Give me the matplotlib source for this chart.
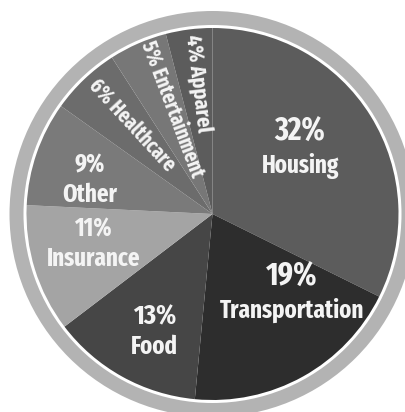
import numpy as np
import matplotlib
matplotlib.use('Agg')
import matplotlib.pyplot as plt
from matplotlib.patches import Circle
from matplotlib import font_manager

# household spending shares (percent), clockwise from 12 o'clock
categories = ['Housing', 'Transportation', 'Food', 'Insurance', 'Other',
              'Healthcare', 'Entertainment', 'Apparel']
shares = [32, 19, 13, 11, 9, 6, 5, 4]
slice_colors = ['#5c5c5c', '#2d2d2d', '#464646', '#a4a4a4', '#7a7a7a',
                '#6c6c6c', '#777777', '#5c5c5c']

# the original uses a very condensed bold face -> Fira Sans Extra Condensed Bold
fp = None
for f in font_manager.fontManager.ttflist:
    if f.fname.split('/')[-1] == 'FiraSansExtraCondensed-Bold.ttf':
        fp = font_manager.FontProperties(fname=f.fname)
        break
if fp is None:
    cands = []
    for f in font_manager.fontManager.ttflist:
        nm = f.fname.split('/')[-1].lower().replace('-', '').replace('_', '')
        if 'italic' in nm or f.style != 'normal':
            continue
        if 'condensed' in nm or 'narrow' in nm:
            w = f.weight if isinstance(f.weight, int) else 400
            cands.append((0 if 'extracondensed' in nm else 1, abs(w - 700), f.fname))
    cands.sort()
    if cands:
        fp = font_manager.FontProperties(fname=cands[0][2])
    else:
        fp = font_manager.FontProperties(family='DejaVu Sans', weight='bold')

fig = plt.figure(figsize=(4.06, 4.12), dpi=100)
ax = fig.add_axes([0, 0, 1, 1])

cx, cy = 212.5, 198
R = 186

# outer ring + thin white line
ax.add_patch(Circle((cx, cy), 203, facecolor='#b3b3b3', edgecolor='none', zorder=1))
ax.add_patch(Circle((cx, cy), 189, facecolor='white', edgecolor='none', zorder=2))

wedges, _ = ax.pie(shares, colors=slice_colors, startangle=90, counterclock=False,
                   center=(cx, cy), radius=R, frame=True,
                   wedgeprops=dict(edgecolor='none'))
for w in wedges:
    w.set_zorder(3)
ax.set_xlim(0, 406)
ax.set_ylim(0, 412)
ax.set_aspect('auto')
ax.axis('off')

# label placement: distance from centre and angle shift from slice middle
label_r = [108, 114, 132, 123, 127, 120, 112, 131]
ang_shift = [4, 15, 3, -3, 4, -1, -3, -0.5]
rotated = [False, False, False, False, False, True, True, True]
pct_size = [23, 23, 20, 18, 18, 15, 15, 16]
name_size = [18, 18, 18, 18, 18, 15, 15, 16]

for w, cat, s, r, da, rot, ps, ns in zip(wedges, categories, shares, label_r,
                                         ang_shift, rotated, pct_size, name_size):
    mid = (w.theta1 + w.theta2) / 2 + da
    x = cx + r * np.cos(np.radians(mid))
    y = cy + r * np.sin(np.radians(mid))
    col = '#f4f4f4'
    if rot:
        ax.text(x, y, '%d%% %s' % (s, cat), rotation=mid - 180,
                rotation_mode='anchor', ha='center', va='center',
                fontproperties=fp, fontsize=ns, color=col, zorder=5)
    else:
        ax.text(x, y + 3, '%d%%' % s, ha='center', va='bottom',
                fontproperties=fp, fontsize=ps, color=col, zorder=5)
        ax.text(x, y - 2, cat, ha='center', va='top',
                fontproperties=fp, fontsize=ns, color=col, zorder=5)

fig.savefig('out.png', dpi=100, facecolor='white')
